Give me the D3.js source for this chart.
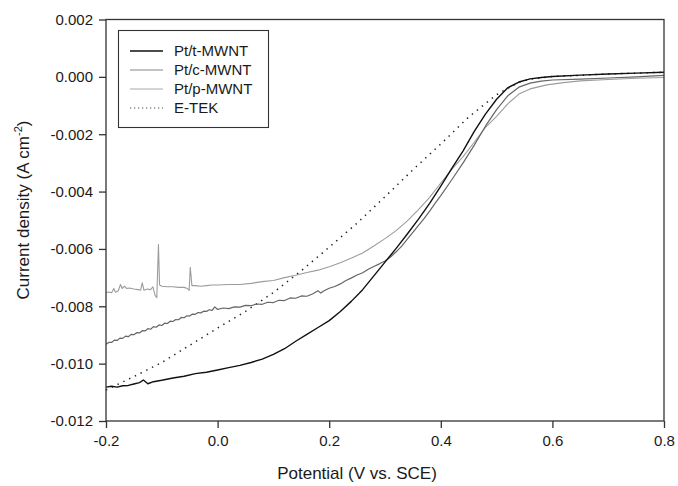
<!DOCTYPE html>
<html>
<head>
<meta charset="utf-8">
<script src="https://cdn.jsdelivr.net/npm/d3@7"></script>
<style>
  body { margin: 0; background: #fff; }
  text { font-family: Arial, "Liberation Sans", sans-serif; fill: #1a1a1a; }
</style>
</head>
<body>
<script>

  var width = 678,
      height = 486,
      margin = {top: 19.5, right: 14, bottom: 65, left: 106};

  // axis ticks
  var xTicks = [-0.2, 0.0, 0.2, 0.4, 0.6, 0.8];
  var yTicks = [0.002, 0.000, -0.002, -0.004, -0.006, -0.008, -0.010, -0.012];

  var seriesNames = ["Pt/t-MWNT", "Pt/c-MWNT", "Pt/p-MWNT", "E-TEK"];

  // [potential (V vs SCE), current density (A cm-2)]
  var ptT = [
    [-0.200, -0.01082], [-0.190, -0.01079], [-0.180, -0.01082], [-0.170, -0.01077],
    [-0.160, -0.01076], [-0.150, -0.01071], [-0.140, -0.01066], [-0.133, -0.01057],
    [-0.125, -0.01070], [-0.115, -0.01063], [-0.100, -0.01058], [-0.080, -0.01050],
    [-0.060, -0.01044], [-0.040, -0.01035], [-0.020, -0.01030], [0.000, -0.01022],
    [0.020, -0.01014], [0.040, -0.01006], [0.060, -0.00996], [0.080, -0.00984],
    [0.100, -0.00968], [0.120, -0.00948], [0.140, -0.00922], [0.160, -0.00898],
    [0.180, -0.00874], [0.200, -0.00850], [0.220, -0.00818], [0.240, -0.00782],
    [0.260, -0.00742], [0.280, -0.00694], [0.300, -0.00646], [0.320, -0.00598],
    [0.340, -0.00548], [0.360, -0.00496], [0.380, -0.00441], [0.400, -0.00381],
    [0.420, -0.00318], [0.440, -0.00258], [0.460, -0.00190], [0.480, -0.00130],
    [0.500, -0.00078], [0.520, -0.00038], [0.540, -0.00018], [0.560, -0.00007],
    [0.580, -0.00002], [0.600, 0.00001], [0.650, 0.00006], [0.700, 0.00010],
    [0.750, 0.00013], [0.800, 0.00016]
  ];

  var ptC = [
    [-0.200, -0.00932], [-0.195, -0.00926], [-0.190, -0.00926], [-0.185, -0.00918],
    [-0.180, -0.00919], [-0.175, -0.00911], [-0.170, -0.00912], [-0.165, -0.00904],
    [-0.160, -0.00906], [-0.155, -0.00898], [-0.150, -0.00899], [-0.145, -0.00892],
    [-0.140, -0.00893], [-0.135, -0.00885], [-0.130, -0.00886], [-0.125, -0.00878],
    [-0.120, -0.00880], [-0.115, -0.00871], [-0.110, -0.00873], [-0.105, -0.00865],
    [-0.100, -0.00867], [-0.095, -0.00859], [-0.090, -0.00860], [-0.085, -0.00852],
    [-0.080, -0.00853], [-0.075, -0.00846], [-0.070, -0.00847], [-0.065, -0.00839],
    [-0.060, -0.00840], [-0.055, -0.00833], [-0.050, -0.00834], [-0.045, -0.00827],
    [-0.040, -0.00828], [-0.035, -0.00822], [-0.030, -0.00823], [-0.025, -0.00817],
    [-0.020, -0.00818], [-0.015, -0.00812], [-0.010, -0.00814], [-0.005, -0.00802],
    [0.000, -0.00811], [0.010, -0.00806], [0.020, -0.00808], [0.030, -0.00802],
    [0.040, -0.00803], [0.050, -0.00797], [0.060, -0.00798], [0.070, -0.00792],
    [0.080, -0.00793], [0.090, -0.00786], [0.100, -0.00787], [0.110, -0.00779],
    [0.120, -0.00780], [0.130, -0.00771], [0.140, -0.00772], [0.150, -0.00764],
    [0.160, -0.00765], [0.170, -0.00757], [0.180, -0.00746], [0.185, -0.00754],
    [0.190, -0.00747], [0.200, -0.00737], [0.210, -0.00731], [0.220, -0.00722],
    [0.230, -0.00710], [0.240, -0.00701], [0.250, -0.00691], [0.260, -0.00683],
    [0.270, -0.00671], [0.280, -0.00661], [0.290, -0.00652], [0.300, -0.00642],
    [0.310, -0.00628], [0.320, -0.00610], [0.330, -0.00590], [0.340, -0.00566],
    [0.350, -0.00542], [0.360, -0.00518], [0.370, -0.00494], [0.380, -0.00468],
    [0.390, -0.00440], [0.400, -0.00414], [0.420, -0.00358], [0.440, -0.00300],
    [0.460, -0.00238], [0.480, -0.00172], [0.500, -0.00114], [0.520, -0.00066],
    [0.540, -0.00036], [0.560, -0.00022], [0.580, -0.00015], [0.600, -0.00011],
    [0.650, -0.00008], [0.700, -0.00004], [0.750, 0.00000], [0.800, 0.00005]
  ];

  var ptP = [
    [-0.200, -0.00752], [-0.195, -0.00750], [-0.190, -0.00753], [-0.186, -0.00738],
    [-0.183, -0.00751], [-0.178, -0.00746], [-0.174, -0.00724], [-0.171, -0.00738],
    [-0.167, -0.00730], [-0.163, -0.00738], [-0.158, -0.00736], [-0.150, -0.00740],
    [-0.142, -0.00742], [-0.138, -0.00744], [-0.135, -0.00718], [-0.132, -0.00744],
    [-0.126, -0.00740], [-0.120, -0.00742], [-0.116, -0.00732], [-0.112, -0.00762],
    [-0.109, -0.00770], [-0.106, -0.00585], [-0.104, -0.00726], [-0.100, -0.00730],
    [-0.090, -0.00732], [-0.080, -0.00732], [-0.070, -0.00734], [-0.060, -0.00734],
    [-0.054, -0.00738], [-0.051, -0.00745], [-0.049, -0.00664], [-0.046, -0.00728],
    [-0.040, -0.00728], [-0.030, -0.00730], [-0.020, -0.00728], [-0.010, -0.00726],
    [0.000, -0.00726], [0.020, -0.00724], [0.040, -0.00724], [0.060, -0.00720],
    [0.080, -0.00714], [0.100, -0.00710], [0.120, -0.00700], [0.140, -0.00692],
    [0.160, -0.00682], [0.180, -0.00674], [0.200, -0.00662], [0.220, -0.00648],
    [0.240, -0.00632], [0.260, -0.00614], [0.280, -0.00590], [0.300, -0.00564],
    [0.320, -0.00536], [0.340, -0.00502], [0.360, -0.00463], [0.380, -0.00420],
    [0.400, -0.00370], [0.420, -0.00322], [0.440, -0.00278], [0.460, -0.00228],
    [0.480, -0.00176], [0.500, -0.00138], [0.520, -0.00094], [0.540, -0.00060],
    [0.560, -0.00042], [0.590, -0.00028], [0.620, -0.00020], [0.650, -0.00014],
    [0.700, -0.00009], [0.750, -0.00005], [0.800, -0.00002]
  ];

  var etek = [
    [-0.200, -0.01092], [-0.150, -0.01045], [-0.100, -0.00996], [-0.050, -0.00936],
    [0.000, -0.00876], [0.050, -0.00818], [0.100, -0.00752], [0.150, -0.00676],
    [0.200, -0.00594], [0.250, -0.00510], [0.300, -0.00418], [0.350, -0.00324],
    [0.400, -0.00234], [0.450, -0.00140], [0.500, -0.00062], [0.520, -0.00040],
    [0.540, -0.00019], [0.560, -0.00008], [0.600, 0.00001], [0.700, 0.00010],
    [0.800, 0.00016]
  ];

  var series = [
    {name: seriesNames[0], values: ptT, color: "#111", w: 1.4, dash: null, legendColor: "#111"},
    {name: seriesNames[1], values: ptC, color: "#666", w: 1.2, dash: null, legendColor: "#888"},
    {name: seriesNames[2], values: ptP, color: "#9c9c9c", w: 1.1, dash: null, legendColor: "#aaa"},
    {name: seriesNames[3], values: etek, color: "#222", w: 1.5, dash: "1.4,5", legendColor: "#444"}
  ];

  var svg = d3.select('body')
      .append('svg')
      .attr('width', width)
      .attr('height', height);

  var x = d3.scaleLinear().domain([-0.2, 0.8]).range([margin.left, width - margin.right]);
  var y = d3.scaleLinear().domain([-0.012, 0.002]).range([height - margin.bottom, margin.top]);

  svg.append("clipPath").attr("id", "plot")
    .append("rect")
      .attr("x", margin.left).attr("y", margin.top)
      .attr("width", width - margin.left - margin.right)
      .attr("height", height - margin.top - margin.bottom);

  var line = d3.line()
      .x(function(d) { return x(d[0]); })
      .y(function(d) { return y(d[1]); });

  // draw E-TEK first so the solid curves sit on top
  svg.append("g").attr("clip-path", "url(#plot)")
    .selectAll("path")
    .data(series.slice().reverse())
    .enter().append("path")
      .attr("d", function(d) { return line(d.values); })
      .attr("fill", "none")
      .attr("stroke", function(d) { return d.color; })
      .attr("stroke-width", function(d) { return d.w; })
      .attr("stroke-dasharray", function(d) { return d.dash; })
      .attr("stroke-linejoin", "round");

  // axes
  var xAxis = svg.append("g")
      .attr("transform", "translate(0," + (height - margin.bottom) + ")")
      .call(d3.axisBottom(x).tickValues(xTicks).tickSize(7).tickPadding(7)
        .tickFormat(function(d) { return d.toFixed(1); }));

  var yAxis = svg.append("g")
      .attr("transform", "translate(" + margin.left + ",0)")
      .call(d3.axisLeft(y).tickValues(yTicks).tickSize(7).tickPadding(6)
        .tickFormat(function(d) { return d.toFixed(3); }));

  [xAxis, yAxis].forEach(function(a) {
    a.select(".domain").remove();
    a.selectAll("line").attr("stroke", "#333").attr("stroke-width", 1.3);
    a.selectAll("text").attr("font-size", 15).attr("fill", "#1a1a1a")
      .attr("font-family", "Arial, 'Liberation Sans', sans-serif");
  });

  // frame
  svg.append("rect")
      .attr("x", margin.left).attr("y", margin.top)
      .attr("width", width - margin.left - margin.right)
      .attr("height", height - margin.top - margin.bottom)
      .attr("fill", "none")
      .attr("stroke", "#333")
      .attr("stroke-width", 1.3);

  // axis titles
  svg.append("text")
      .attr("x", 357).attr("y", 479)
      .attr("text-anchor", "middle")
      .attr("font-size", 17)
      .text("Potential (V vs. SCE)");

  var yTitle = svg.append("text")
      .attr("transform", "translate(29,210) rotate(-90)")
      .attr("text-anchor", "middle")
      .attr("font-size", 17);
  yTitle.append("tspan").text("Current density (A cm");
  yTitle.append("tspan").attr("dy", -7).attr("font-size", 11).text("-2");
  yTitle.append("tspan").attr("dy", 7).text(")");

  // legend
  var legend = svg.append("g");
  legend.append("rect")
      .attr("x", 118.5).attr("y", 30.5)
      .attr("width", 150).attr("height", 97)
      .attr("fill", "#fff")
      .attr("stroke", "#333")
      .attr("stroke-width", 1.1);

  var rows = legend.selectAll(".row")
      .data(series)
      .enter().append("g")
      .attr("class", "row")
      .attr("transform", function(d, i) { return "translate(0," + (51 + i * 19) + ")"; });

  rows.append("line")
      .attr("x1", 130).attr("x2", 163)
      .attr("stroke", function(d) { return d.legendColor; })
      .attr("stroke-width", function(d) { return d.dash ? 1.2 : d.w; })
      .attr("stroke-dasharray", function(d) { return d.dash ? "1.2,2.8" : null; });

  rows.append("text")
      .attr("x", 174).attr("dy", "0.36em")
      .attr("font-size", 15)
      .text(function(d) { return d.name; });

</script>
</body>
</html>
